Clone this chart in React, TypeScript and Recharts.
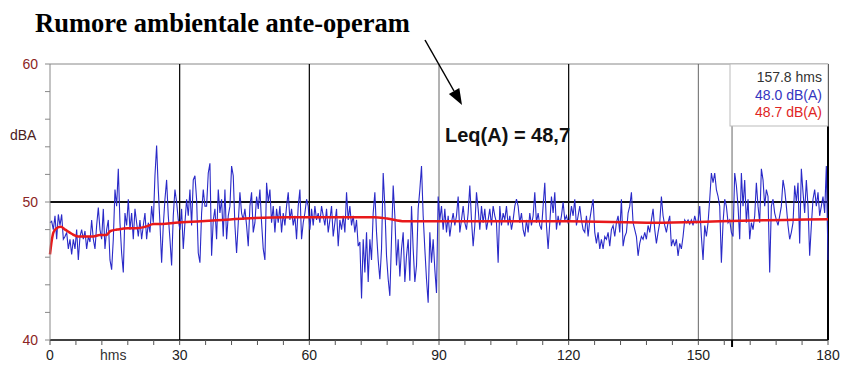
import React from 'react';
import { LineChart, Line, XAxis, YAxis, ReferenceLine } from 'recharts';

// sound level (dBA), one value every ~0.385 s
const level0to36 = [
  48.5, 48.6, 48.0, 49.0, 47.3, 49.1, 48.3, 49.1, 47.3, 47.5,
  47.8, 46.6, 47.3, 46.2, 47.3, 46.6, 48.0, 45.8, 47.5, 48.0,
  47.3, 47.9, 46.6, 47.5, 47.1, 48.7, 47.3, 46.6, 48.3, 49.6,
  48.0, 47.3, 49.5, 46.6, 48.0, 48.7, 45.8, 45.1, 47.3, 50.9,
  49.7, 52.4, 48.5, 46.3, 44.9, 49.2, 48.3, 50.2, 48.0, 49.2,
  47.3, 49.5, 48.5, 47.5, 48.7, 47.3, 48.3, 49.2, 47.3, 48.5,
  47.8, 49.7, 48.5, 51.9, 54.1, 50.9, 48.5, 45.6, 48.3, 50.2,
  51.6, 49.0, 47.3, 45.4, 49.0, 50.9, 50.0, 48.7, 48.0, 49.5,
  46.6, 48.5, 50.2, 49.0, 50.9, 48.3, 51.6, 51.9, 50.2, 46.3,
  45.6, 49.2, 50.9, 49.7,
];
const level36to72 = [
  49.7, 52.1, 52.8, 46.1, 48.7, 49.5, 47.3, 50.9, 49.2, 50.2,
  47.5, 50.9, 47.3, 49.0, 49.7, 52.6, 51.9, 48.3, 46.3, 48.5,
  50.7, 49.2, 48.7, 49.5, 48.3, 46.8, 49.7, 50.7, 47.8, 48.5,
  50.4, 49.5, 50.9, 48.5, 46.6, 45.8, 51.4, 50.0, 50.9, 48.5,
  49.7, 47.8, 49.5, 48.5, 49.7, 47.8, 49.2, 48.3, 49.7, 50.7,
  48.7, 49.5, 48.3, 49.0, 47.3, 49.7, 50.9, 47.3, 48.5, 49.2,
  50.2, 49.7, 48.0, 49.5, 48.3, 49.7, 48.7, 49.2, 48.5, 49.7,
  49.0, 48.3, 49.5, 47.8, 48.7, 49.7, 47.5, 48.5, 49.5, 46.8,
  48.7, 48.0, 49.0, 47.8, 50.7, 48.7, 49.7, 48.3, 49.0, 47.8,
  48.7, 46.8, 47.1, 43.0,
];
const level72to108 = [
  47.3, 44.9, 47.8, 44.2, 47.3, 45.8, 49.2, 50.7, 47.8, 45.8,
  44.4, 46.6, 52.1, 49.7, 46.1, 44.4, 43.2, 47.3, 51.2, 49.0,
  45.4, 47.3, 44.6, 46.6, 47.8, 44.2, 46.1, 47.3, 44.3, 49.7,
  46.6, 44.2, 45.4, 49.5, 50.9, 52.6, 49.0, 46.6, 44.4, 42.7,
  47.8, 45.6, 47.3, 45.1, 43.4, 50.4, 48.7, 49.7, 48.0, 49.5,
  47.8, 49.0, 47.5, 48.5, 49.2, 48.3, 49.0, 50.4, 47.8, 48.7,
  49.7, 48.5, 48.0, 49.2, 51.2, 48.7, 46.8, 48.3, 50.7, 49.5,
  48.0, 49.7, 48.5, 49.5, 48.0, 48.7, 49.5, 48.3, 49.7, 49.0,
  48.5, 45.6, 49.7, 48.3, 49.2, 48.7, 49.7, 48.3, 49.0, 48.0,
  48.7, 49.7, 50.2,
];
const level108to144 = [
  49.7, 48.5, 49.2, 48.0, 47.5, 48.7, 47.8, 49.2, 48.3, 49.0,
  50.7, 48.5, 49.2, 48.3, 48.0, 49.7, 51.4, 48.3, 46.6, 48.5,
  50.4, 49.2, 50.7, 48.0, 49.0, 48.3, 49.0, 50.0, 48.7, 49.0,
  48.5, 48.7, 49.7, 49.0, 50.2, 48.3, 49.0, 49.7, 48.7, 48.0,
  47.8, 49.0, 47.5, 48.7, 49.5, 50.2, 47.8, 47.0, 47.8, 46.6,
  47.3, 46.6, 47.5, 47.3, 47.8, 46.8, 48.0, 48.3, 47.5, 48.5,
  49.0, 47.8, 50.2, 46.8, 47.5, 47.8, 49.2, 49.7, 50.7, 48.5,
  48.0, 47.5, 46.1, 47.0, 47.5, 47.3, 47.8, 47.3, 48.3, 47.8,
  48.7, 49.5, 48.0, 47.0, 47.8, 48.5, 50.4, 49.0, 48.3, 47.8,
  48.5, 49.0, 46.8, 47.3,
];
const level144to180 = [
  46.8, 47.3, 46.1, 47.0, 46.6, 47.5, 48.7, 48.5, 48.7, 48.4,
  48.7, 48.3, 49.0, 48.5, 48.6, 49.7, 47.5, 45.8, 48.3, 47.5,
  48.5, 50.2, 52.1, 51.4, 52.1, 50.9, 50.4, 49.7, 45.6, 48.5,
  50.2, 49.7, 48.5, 48.7, 47.8, 47.5, 52.1, 51.2, 49.7, 47.3,
  52.1, 49.7, 51.6, 48.5, 50.2, 47.3, 48.5, 48.0, 49.0, 51.4,
  49.7, 48.5, 52.4, 51.6, 49.7, 50.9, 50.4, 44.9, 49.7, 50.2,
  49.2, 48.7, 48.3, 49.0, 49.7, 51.6, 50.9, 49.7, 48.3, 47.3,
  47.8, 48.5, 51.2, 50.0, 51.4, 47.0, 52.4, 50.7, 49.2, 51.6,
  49.7, 46.1, 48.3, 50.2, 50.9, 49.7, 50.7, 49.0, 49.7, 50.4,
  49.2, 52.6, 45.8,
];

// running Leq (red)
const leqTimes = [0, 0.4, 0.8, 1.5, 2.5, 3.5, 5, 6.5, 8, 10, 11.5, 13, 14, 15.5, 18, 20, 22, 24, 26, 29, 35, 40, 45, 55, 70, 75, 78, 82, 100, 120, 140, 150, 160, 170, 180];
const leqValues = [46.2, 47.2, 47.8, 48.1, 48.2, 48.0, 47.7, 47.5, 47.5, 47.5, 47.6, 47.6, 47.9, 48.0, 48.1, 48.1, 48.2, 48.4, 48.4, 48.5, 48.6, 48.7, 48.8, 48.9, 48.9, 48.9, 48.8, 48.6, 48.6, 48.6, 48.5, 48.55, 48.65, 48.7, 48.75];

const xTicks = [0, 6, 12, 18, 24, 30, 36, 42, 48, 54, 60, 66, 72, 78, 84, 90, 96, 102, 108, 114, 120, 126, 132, 138, 144, 150, 156, 157.8, 162, 168, 174, 180];
const xLabels = [0, 30, 60, 90, 120, 150, 180];
const yTicks = [40, 42, 44, 46, 48, 50, 52, 54, 56, 58, 60];
const yLabels = [40, 50, 60];
const darkLinesX = [30, 60, 120, 180];
const grayLinesX = [90, 150, 157.8];
const CURSOR = 157.8;

const levelValues = [...level0to36, ...level36to72, ...level72to108, ...level108to144, ...level144to180];
const levelData = levelValues.map((v, i) => ({ t: (i * 180) / (levelValues.length - 1), v }));
const leqData = leqTimes.map((t, i) => ({ t, v: leqValues[i] }));

const sans = '"Liberation Sans", Arial, sans-serif';

function XTick(props: any) {
  const { x, y, payload } = props;
  const v = payload.value;
  const cursor = v === CURSOR;
  return (
    <g>
      <line x1={x} y1={y} x2={x} y2={y + (cursor ? 7 : 5)} stroke={cursor ? '#000' : '#555'} strokeWidth={cursor ? 2 : 1} />
      {xLabels.includes(v) && (
        <text x={x} y={y + 20} textAnchor="middle" fontSize={14} fill="#222" fontFamily={sans}>{v}</text>
      )}
    </g>
  );
}

function YTick(props: any) {
  const { x, y, payload } = props;
  const v = payload.value;
  return (
    <g>
      <line x1={x - 5} y1={y} x2={x} y2={y} stroke="#888" />
      {yLabels.includes(v) && (
        <text x={x - 12} y={y + 5} textAnchor="end" fontSize={14} fill="#8b2525" fontFamily={sans}>{v}</text>
      )}
    </g>
  );
}

export default function App() {
  return (
    <div style={{ position: 'absolute', left: 0, top: 0, width: 843, height: 369, background: '#fff', fontFamily: sans }}>
      <LineChart width={843} height={369} margin={{ top: 64, right: 15, bottom: 0, left: 0 }}>
        <XAxis type="number" dataKey="t" domain={[0, 180]} ticks={xTicks} interval={0} tick={<XTick />}
          tickLine={false} tickSize={0} tickMargin={0} height={29} axisLine={{ stroke: '#000', strokeWidth: 1.5 }} />
        <YAxis type="number" dataKey="v" domain={[40, 60]} ticks={yTicks} interval={0} tick={<YTick />}
          tickLine={false} tickSize={0} tickMargin={0} width={50} axisLine={{ stroke: '#888' }} />
        <ReferenceLine y={60} stroke="#888" />
        {darkLinesX.map(x => (
          <ReferenceLine key={`d${x}`} x={x} stroke="#000" strokeWidth={x === 180 ? 2 : 1.2} />
        ))}
        {grayLinesX.map(x => (
          <ReferenceLine key={`g${x}`} x={x} stroke="#666" strokeWidth={1} />
        ))}
        <ReferenceLine y={50} stroke="#111" strokeWidth={2} />
        <Line data={levelData} dataKey="v" type="linear" stroke="#2a2ac8" strokeWidth={1.1} dot={false} isAnimationActive={false} />
        <Line data={leqData} dataKey="v" type="monotone" stroke="#e8191b" strokeWidth={2.5} dot={false} isAnimationActive={false} />
      </LineChart>
      <svg width={843} height={369} style={{ position: 'absolute', left: 0, top: 0, pointerEvents: 'none' }}>
        <text x={35} y={32} fontSize={26.5} fontWeight="bold" fontFamily='"Liberation Serif", "Times New Roman", serif' fill="#000">
          Rumore ambientale ante-operam
        </text>
        <line x1={425} y1={40} x2={454} y2={91} stroke="#000" strokeWidth={1.5} />
        <polygon points="462,105 459.3,88.1 448.9,94.1" fill="#000" />
        <text x={445} y={142} fontSize={20} fontWeight="bold" fill="#111" fontFamily={sans}>Leq(A) = 48,7</text>
        <text x={10} y={140} fontSize={14} fill="#4a2020" fontFamily={sans}>dBA</text>
        <text x={100} y={360} fontSize={14} fill="#333" fontFamily={sans}>hms</text>
        <rect x={730} y={64} width={98} height={62} fill="#fff" stroke="#bbb" />
        <text x={822} y={82} textAnchor="end" fontSize={14} fill="#333" fontFamily={sans}>157.8 hms</text>
        <text x={822} y={100} textAnchor="end" fontSize={14} fill="#3434c0" fontFamily={sans}>48.0 dB(A)</text>
        <text x={822} y={117} textAnchor="end" fontSize={14} fill="#e02424" fontFamily={sans}>48.7 dB(A)</text>
      </svg>
    </div>
  );
}
